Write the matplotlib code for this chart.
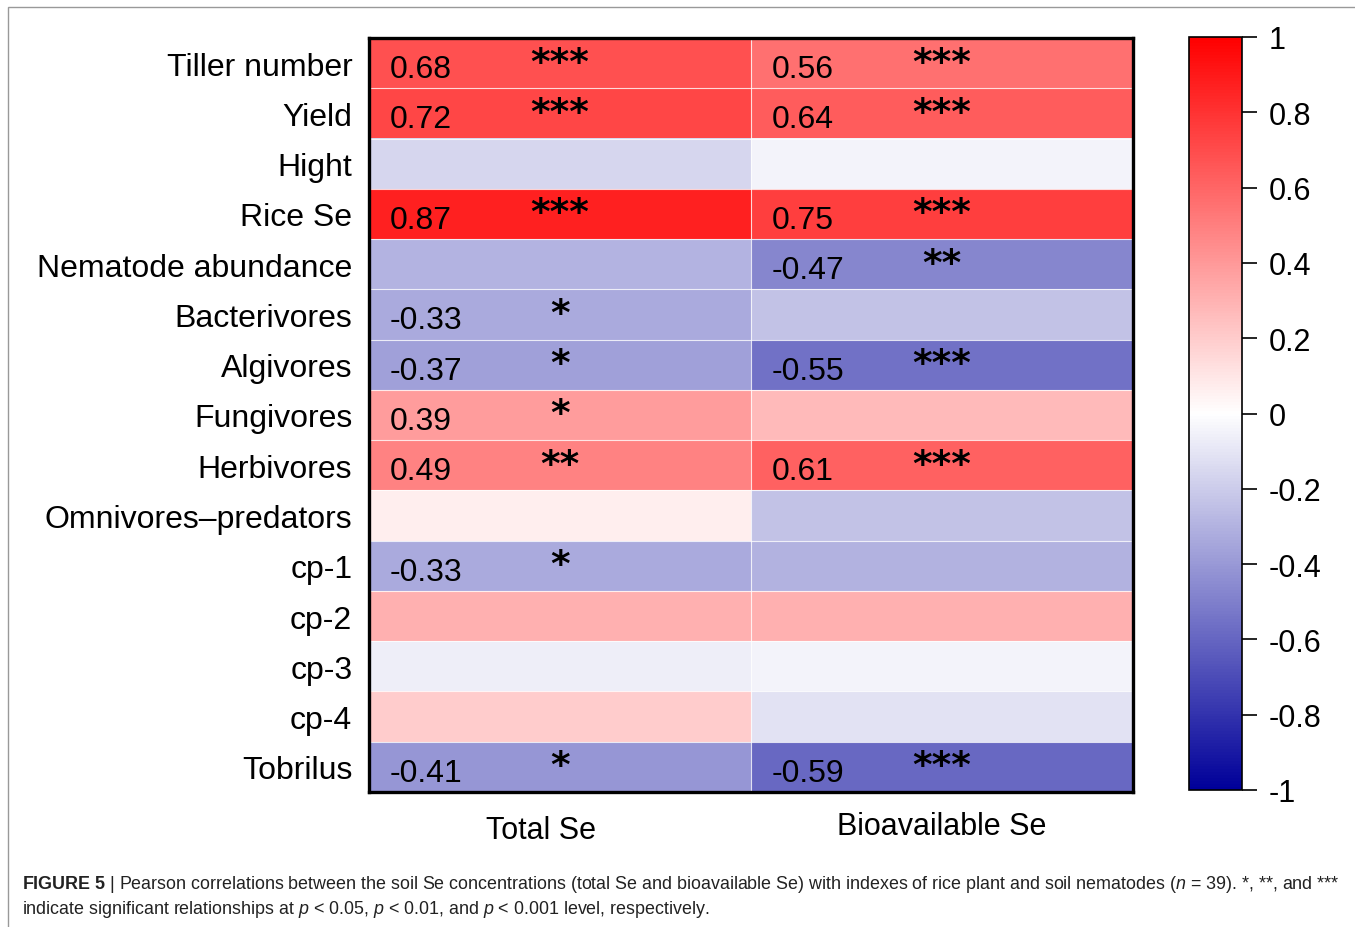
import numpy as np
import matplotlib
matplotlib.use("Agg")
import matplotlib.pyplot as plt
from matplotlib.colors import LinearSegmentedColormap
from matplotlib.patches import Rectangle

plt.rcParams['font.family'] = ['Liberation Sans', 'DejaVu Sans']
plt.rcParams['mathtext.fontset'] = 'custom'
plt.rcParams['mathtext.rm'] = 'Liberation Sans'
plt.rcParams['mathtext.it'] = 'Liberation Sans:italic'
plt.rcParams['mathtext.bf'] = 'Liberation Sans:bold'

rows = ["Tiller number", "Yield", "Hight", "Rice Se", "Nematode abundance",
        "Bacterivores", "Algivores", "Fungivores", "Herbivores",
        "Omnivores\u2013predators", "cp-1", "cp-2", "cp-3", "cp-4", "Tobrilus"]
cols = ["Total Se", "Bioavailable Se"]

total_se = [0.68, 0.72, -0.16, 0.87, -0.29, -0.33, -0.37, 0.39, 0.49,
            0.07, -0.33, 0.31, -0.07, 0.20, -0.41]
bioavail_se = [0.56, 0.64, -0.04, 0.75, -0.47, -0.24, -0.55, 0.27, 0.61,
               -0.24, -0.30, 0.31, -0.04, -0.11, -0.59]
total_sig = ["***", "***", "", "***", "", "*", "*", "*", "**",
             "", "*", "", "", "", "*"]
bioavail_sig = ["***", "***", "", "***", "**", "", "***", "", "***",
                "", "", "", "", "", "***"]

data = np.column_stack([total_se, bioavail_se])
sig = [total_sig, bioavail_sig]

cmap = LinearSegmentedColormap.from_list(
    "bwr_custom", [(0.0, 0.0, 0.6), (1, 1, 1), (1, 0, 0)])

W, H = 1355, 928
fig = plt.figure(figsize=(W / 100, H / 100), dpi=100)

ax = fig.add_axes([369 / W, 1 - 793 / H, (1133 - 369) / W, (793 - 39) / H])
im = ax.imshow(data, cmap=cmap, vmin=-1, vmax=1, aspect='auto',
               interpolation='nearest')
nr, nc = data.shape
for i in range(1, nr):
    ax.axhline(i - 0.5, color='white', lw=0.8, alpha=0.8)
ax.axvline(0.5, color='white', lw=0.8, alpha=0.8)

for j in range(nc):
    for i in range(nr):
        if sig[j][i]:
            ax.text(j - 0.445, i + 0.12, f"{data[i, j]:.2f}", ha='left',
                    va='center', fontsize=23)
            ax.text(j, i - 0.37, sig[j][i], ha='center', va='top',
                    fontsize=27, family='DejaVu Sans', fontweight='bold')

ax.set_yticks(range(nr))
ax.set_yticklabels(rows, fontsize=23)
ax.set_xticks([])
ax.tick_params(axis='y', length=0, pad=12)
for sp in ax.spines.values():
    sp.set_linewidth(2.4)
    sp.set_color('black')

ax.text(-0.05, -0.05, cols[0], transform=ax.get_xaxis_transform(),
        ha='center', va='center', fontsize=22)
ax.text(1.0, -0.045, cols[1], transform=ax.get_xaxis_transform(),
        ha='center', va='center', fontsize=22)

cax = fig.add_axes([1189 / W, 1 - 791 / H, 53 / W, (791 - 38) / H])
cb = fig.colorbar(im, cax=cax, ticks=[-1, -0.8, -0.6, -0.4, -0.2, 0,
                                      0.2, 0.4, 0.6, 0.8, 1])
cb.ax.set_yticklabels(["-1", "-0.8", "-0.6", "-0.4", "-0.2", "0",
                       "0.2", "0.4", "0.6", "0.8", "1"])
cb.ax.tick_params(labelsize=22, length=11, width=1.2, pad=8)
cb.outline.set_linewidth(1.2)

# outer figure frame
fig.patches.append(Rectangle((8 / W, -0.02), 1.05, 1 - 8 / H + 0.02,
                             transform=fig.transFigure, fill=False,
                             edgecolor='#999999', lw=1.0))

fig.text(22 / W, 1 - 885 / H,
         r"$\mathbf{FIGURE\ 5}$ | Pearson correlations between the soil Se concentrations "
         r"(total Se and bioavailable Se) with indexes of rice plant and soil nematodes "
         r"($n$ = 39). *, **, and ***",
         fontsize=12.9, va='center', ha='left', color='#222222')
fig.text(22 / W, 1 - 910 / H,
         r"indicate significant relationships at $p$ < 0.05, $p$ < 0.01, and $p$ < 0.001 level, respectively.",
         fontsize=12.9, va='center', ha='left', color='#222222')

fig.savefig("out.png", dpi=100)
